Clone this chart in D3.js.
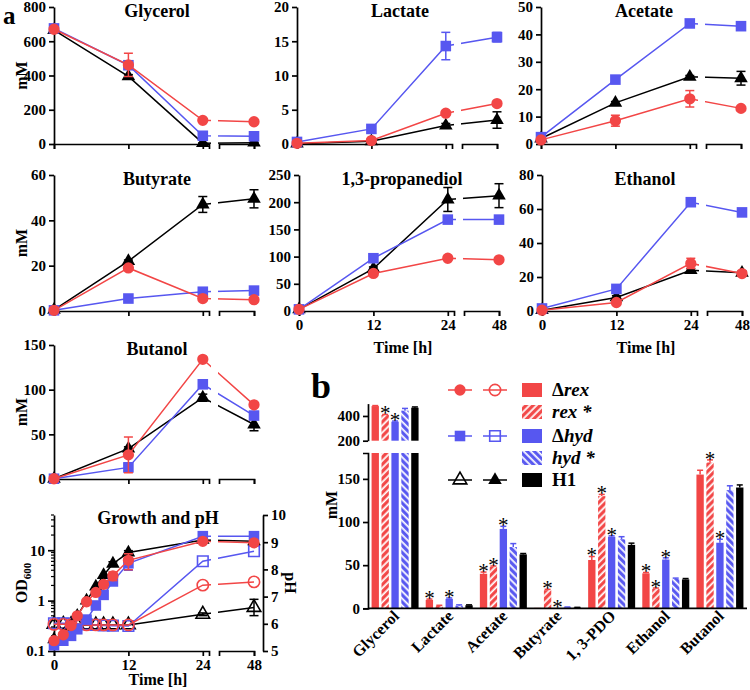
<!DOCTYPE html>
<html>
<head>
<meta charset="utf-8">
<script src="https://cdn.jsdelivr.net/npm/d3@7"></script>
<style>
  body { margin: 0; background: #fff; }
  svg { font-family: "Liberation Serif", "Times New Roman", serif; font-weight: bold; }
</style>
</head>
<body>
<svg id="fig" width="750" height="690"></svg>
<script>
const red = "#f24646";
const blue = "#5757f0";
const black = "#000";

// ---- panel a: metabolites over time ----
const times = [0, 12, 24, 48];
const metabolites = ["Glycerol", "Lactate", "Acetate", "Butyrate", "1,3-propanediol", "Ethanol", "Butanol"];
const yMaxes = [800, 20, 50, 60, 250, 80, 150];
const ySteps = [200, 5, 10, 20, 50, 20, 50];

// Δrex (red circles)
const rexMM = [
    [670, 462, 138, 130],
    [0.1, 0.5, 4.5, 5.9],
    [1.5, 8.5, 16.5, 13],
    [0.3, 19, 5.5, 5],
    [3, 69, 97, 94],
    [0.5, 5, 28, 22],
    [0.3, 27, 134, 83]
];
const rexErr = [
    [8, 68, 4, 4],
    [0, 0.1, 0.3, 0.3],
    [0.3, 2, 3, 0.5],
    [0, 0.5, 0.5, 0.3],
    [0, 2, 2, 2],
    [0, 0.5, 3, 1],
    [0, 20, 2, 2]
];
// Δhyd (blue squares)
const hydMM = [
    [675, 460, 48, 45],
    [0.3, 2.2, 14.3, 15.6],
    [2.5, 23.5, 44, 43],
    [0.3, 5.5, 8.5, 9],
    [3, 97, 168, 168],
    [1.5, 13, 64, 58],
    [0.3, 13, 106, 71]
];
const hydErr = [
    [8, 20, 4, 4],
    [0, 0.2, 2, 0.7],
    [0.3, 1, 0.5, 0.5],
    [0, 0.5, 0.5, 0.5],
    [0, 3, 3, 3],
    [0, 1, 1, 1],
    [0, 5, 3, 3]
];
// H1 (black triangles)
const h1MM = [
    [665, 395, 5, 8],
    [0.05, 0.4, 2.7, 3.5],
    [2, 15, 24.5, 24],
    [0.5, 22, 47, 49.5],
    [3, 78, 205, 212],
    [0.5, 8, 24, 22.5],
    [0.3, 34, 91, 61]
];
const h1Err = [
    [8, 10, 2, 2],
    [0, 0.1, 0.3, 1.2],
    [0.3, 0.5, 0.5, 2.5],
    [0, 0.5, 3.5, 4],
    [0, 3, 22, 22],
    [0, 1, 1, 1],
    [0, 2, 4, 7]
];

// ---- growth and pH ----
const growthTimes = [0, 1.5, 2.75, 3.75, 5.25, 6.75, 8, 9.5, 12, 24, 48];
const odRex = [0.16, 0.21, 0.32, 0.5, 0.95, 1.45, 2.1, 3.1, 6.3, 15, 14];
const odRexErr = [0, 0, 0, 0, 0, 0, 0.3, 0.6, 2.2, 1, 1];
const odHyd = [0.13, 0.16, 0.2, 0.27, 0.42, 0.8, 1.3, 2.4, 5.5, 19, 19];
const odHydErr = [0, 0, 0, 0, 0, 0, 0, 0.3, 1.5, 1, 1];
const odH1 = [0.17, 0.21, 0.3, 0.5, 1.0, 1.9, 3.2, 5.4, 9, 16, 15];
const odH1Err = [0, 0, 0, 0, 0, 0, 0, 0.5, 0.8, 1, 1];
const phRex = [5.98, 5.98, 5.97, 5.97, 5.96, 5.96, 5.96, 5.96, 5.96, 7.42, 7.54];
const phHyd = [6.02, 6.02, 6.0, 6.0, 5.98, 5.96, 5.94, 5.93, 5.92, 8.3, 8.67];
const phH1 = [5.98, 5.98, 5.97, 5.96, 5.96, 5.96, 5.96, 5.96, 5.96, 6.35, 6.6];
const phH1Err = [0, 0, 0, 0, 0, 0, 0, 0, 0, 0.05, 0.3];

// ---- panel b: bars ----
const barGroups = ["Glycerol", "Lactate", "Acetate", "Butyrate", "1, 3-PDO", "Ethanol", "Butanol"];
const barDrex = [480, 9.7, 40, 0.5, 56, 40.5, 155];
const barRex = [408, 3, 48, 21, 130, 22.5, 169];
const barDhyd = [354, 11, 92, 0.2, 83, 56.5, 76];
const barHyd = [443, 3, 71, 1, 80, 34, 137];
const barH1 = [467, 3.5, 62.5, 0.8, 73.5, 33.5, 140];
const barDrexErr = [4, 1, 2, 0, 4, 1, 5];
const barRexErr = [4, 0.5, 1, 1, 2, 1, 3];
const barDhydErr = [5, 1, 3, 0, 1, 2, 4];
const barHydErr = [18, 1, 4, 0.5, 3, 1, 5];
const barH1Err = [6, 0.5, 1, 0.3, 2, 1, 3];
const starDrex = [0, 1, 1, 0, 1, 1, 0];
const starRex = [1, 0, 1, 1, 1, 1, 1];
const starDhyd = [1, 1, 1, 1, 1, 1, 1];
const starHyd = [0, 0, 0, 0, 0, 0, 0];
const starH1 = [0, 0, 0, 0, 0, 0, 0];

// panel frames (axis origin x, top y, height)
const panelLayout = [
    { x0: 54, top: 7, h: 137 },
    { x0: 297, top: 7, h: 137 },
    { x0: 541, top: 7, h: 137 },
    { x0: 54, top: 175, h: 136 },
    { x0: 299, top: 175, h: 136 },
    { x0: 542, top: 175, h: 136 },
    { x0: 54, top: 345, h: 134 }
];

const svg = d3.select("#fig");
const defs = svg.append("defs");

function hatch(id, color, angle) {
    const p = defs.append("pattern")
        .attr("id", id)
        .attr("patternUnits", "userSpaceOnUse")
        .attr("width", 5).attr("height", 5)
        .attr("patternTransform", `rotate(${angle})`);
    p.append("rect").attr("width", 5).attr("height", 5).attr("fill", color);
    p.append("line").attr("x1", 1.2).attr("x2", 1.2).attr("y1", 0).attr("y2", 5)
        .attr("stroke", "#fff").attr("stroke-width", 1.8);
}
hatch("hatchRed", red, 45);
hatch("hatchBlue", blue, -45);

function styleAxis(sel, fontSize = 15) {
    sel.attr("font-family", null).attr("font-size", null);
    sel.selectAll("path, line").attr("stroke", "#000").attr("stroke-width", 1.7);
    sel.selectAll("text").attr("font-size", fontSize).attr("font-weight", "bold").attr("fill", "#000");
}

function symbolFor(shape) {
    if (shape === "circle") return d3.symbol(d3.symbolCircle, 100);
    if (shape === "square") return d3.symbol(d3.symbolSquare, 112);
    return d3.symbol(d3.symbolTriangle, 80);
}

// broken time axis: 0-25 h then 44.5-48 h
function timeScale(x0) {
    const xa = d3.scaleLinear().domain([0, 25]).range([x0, x0 + 155]);
    const xb = d3.scaleLinear().domain([44.5, 48]).range([x0 + 165, x0 + 200]);
    return { xa, xb, x: t => (t <= 25 ? xa(t) : xb(t)) };
}

function makeClip(id, x0, top, h) {
    const cp = defs.append("clipPath").attr("id", id);
    cp.append("rect").attr("x", x0 - 20).attr("y", top - 60).attr("width", 177).attr("height", h + 120);
    cp.append("rect").attr("x", x0 + 164).attr("y", top - 60).attr("width", 80).attr("height", h + 120);
}

function drawTimeAxis(g, ts, bottom, showLabels) {
    const fmt = showLabels ? d3.format("d") : () => "";
    g.append("g")
        .attr("transform", `translate(0,${bottom})`)
        .call(d3.axisBottom(ts.xa).tickValues([0, 12, 24]).tickSize(5).tickSizeOuter(5).tickFormat(fmt))
        .call(styleAxis);
    g.append("g")
        .attr("transform", `translate(0,${bottom})`)
        .call(d3.axisBottom(ts.xb).tickValues([48]).tickSize(5).tickSizeOuter(5).tickFormat(fmt))
        .call(styleAxis);
}

function drawSeries(g, x, y, ts, vals, errs, color, shape, filled, clipId) {
    g.append("path")
        .datum(ts.map((t, i) => [x(t), y(vals[i])]))
        .attr("clip-path", `url(#${clipId})`)
        .attr("d", d3.line())
        .attr("fill", "none")
        .attr("stroke", color)
        .attr("stroke-width", 1.5);

    if (errs) {
        ts.forEach((t, i) => {
            const e = errs[i];
            if (!e) return;
            const cx = x(t);
            const lo = y(Math.max(vals[i] - e, y.domain()[0]));
            const hi = y(vals[i] + e);
            const eb = g.append("g").attr("stroke", color).attr("stroke-width", 1.5);
            eb.append("line").attr("x1", cx).attr("x2", cx).attr("y1", lo).attr("y2", hi);
            eb.append("line").attr("x1", cx - 4.5).attr("x2", cx + 4.5).attr("y1", lo).attr("y2", lo);
            eb.append("line").attr("x1", cx - 4.5).attr("x2", cx + 4.5).attr("y1", hi).attr("y2", hi);
        });
    }

    g.selectAll(null)
        .data(ts)
        .join("path")
        .attr("transform", (t, i) => `translate(${x(t)},${y(vals[i])})`)
        .attr("d", symbolFor(shape))
        .attr("fill", filled ? color : "none")
        .attr("stroke", color)
        .attr("stroke-width", filled ? 0 : 1.6);
}

function linePanel(i) {
    const { x0, top, h } = panelLayout[i];
    const bottom = top + h;
    const ts = timeScale(x0);
    const y = d3.scaleLinear().domain([0, yMaxes[i]]).range([bottom, top]);
    const clipId = "clip" + i;
    makeClip(clipId, x0, top, h);
    const g = svg.append("g");

    g.append("g")
        .attr("transform", `translate(${x0},0)`)
        .call(d3.axisLeft(y).tickValues(d3.range(0, yMaxes[i] + 0.1, ySteps[i])).tickSize(5).tickSizeOuter(0))
        .call(styleAxis);
    drawTimeAxis(g, ts, bottom, i === 4 || i === 5);

    g.append("text")
        .attr("x", x0 + 103).attr("y", top + 10)
        .attr("text-anchor", "middle").attr("font-size", 18)
        .text(metabolites[i]);

    if (i === 0 || i === 3 || i === 6) {
        g.append("text")
            .attr("transform", `translate(27,${top + h / 2}) rotate(-90)`)
            .attr("text-anchor", "middle").attr("font-size", 16)
            .text("mM");
    }
    if (i === 4 || i === 5) {
        g.append("text")
            .attr("x", x0 + 104).attr("y", bottom + 42)
            .attr("text-anchor", "middle").attr("font-size", 16)
            .text("Time [h]");
    }

    drawSeries(g, ts.x, y, times, h1MM[i], h1Err[i], black, "triangle", true, clipId);
    drawSeries(g, ts.x, y, times, hydMM[i], hydErr[i], blue, "square", true, clipId);
    drawSeries(g, ts.x, y, times, rexMM[i], rexErr[i], red, "circle", true, clipId);
}

function growthPanel() {
    const x0 = 54, top = 515, h = 136, bottom = top + h;
    const ts = timeScale(x0);
    const yOd = d3.scaleLog().domain([0.1, 50]).range([bottom, top]);
    const yPh = d3.scaleLinear().domain([5, 10]).range([bottom, top]);
    const clipId = "clipGrowth";
    makeClip(clipId, x0, top, h);
    const g = svg.append("g");

    g.append("g")
        .attr("transform", `translate(${x0},0)`)
        .call(d3.axisLeft(yOd).tickValues([0.1, 1, 10]).tickFormat(d3.format("")).tickSize(6).tickSizeOuter(0))
        .call(styleAxis);
    const minor = [];
    [0.1, 1, 10].forEach(dec => d3.range(2, 10).forEach(m => { if (dec * m <= 50) minor.push(dec * m); }));
    g.append("g").selectAll("line").data(minor).join("line")
        .attr("x1", x0 - 3).attr("x2", x0)
        .attr("y1", d => yOd(d)).attr("y2", d => yOd(d))
        .attr("stroke", "#000").attr("stroke-width", 1.2);

    g.append("g")
        .attr("transform", `translate(263,0)`)
        .call(d3.axisRight(yPh).ticks(5).tickSize(5).tickSizeOuter(0))
        .call(styleAxis);
    drawTimeAxis(g, ts, bottom, true);

    g.append("text").attr("x", x0 + 104).attr("y", top + 9)
        .attr("text-anchor", "middle").attr("font-size", 18).text("Growth and pH");
    g.append("text").attr("x", x0 + 104).attr("y", bottom + 34)
        .attr("text-anchor", "middle").attr("font-size", 16).text("Time [h]");
    const od = g.append("text").attr("transform", `translate(27,${top + h / 2}) rotate(-90)`)
        .attr("text-anchor", "middle").attr("font-size", 16);
    od.append("tspan").text("OD");
    od.append("tspan").attr("font-size", 11).attr("dy", 4).text("600");
    g.append("text").attr("transform", `translate(285,${top + h / 2}) rotate(90)`)
        .attr("text-anchor", "middle").attr("font-size", 16).text("pH");

    drawSeries(g, ts.x, yPh, growthTimes, phH1, phH1Err, black, "triangle", false, clipId);
    drawSeries(g, ts.x, yPh, growthTimes, phHyd, null, blue, "square", false, clipId);
    drawSeries(g, ts.x, yPh, growthTimes, phRex, null, red, "circle", false, clipId);
    drawSeries(g, ts.x, yOd, growthTimes, odH1, odH1Err, black, "triangle", true, clipId);
    drawSeries(g, ts.x, yOd, growthTimes, odHyd, odHydErr, blue, "square", true, clipId);
    drawSeries(g, ts.x, yOd, growthTimes, odRex, odRexErr, red, "circle", true, clipId);
}

function barPanel() {
    const left = 368, right = 747;
    const yLow = d3.scaleLinear().domain([0, 180]).range([608.3, 453]);
    const yUp = d3.scaleLinear().domain([200, 500]).range([440.7, 403.6]);
    const xg = d3.scaleBand().domain(barGroups).range([left, right]);
    const xi = d3.scaleBand().domain(d3.range(5)).range([-23.5, 23.5]).paddingInner(0.26);
    const vals = [barDrex, barRex, barDhyd, barHyd, barH1];
    const errs = [barDrexErr, barRexErr, barDhydErr, barHydErr, barH1Err];
    const stars = [starDrex, starRex, starDhyd, starHyd, starH1];
    const fills = [red, "url(#hatchRed)", blue, "url(#hatchBlue)", black];
    const lineColors = [red, red, blue, blue, black];
    const g = svg.append("g");

    barGroups.forEach((grp, gi) => {
        const gc = xg(grp) + xg.bandwidth() / 2;
        vals.forEach((series, si) => {
            const v = series[gi];
            const bx = gc + xi(si);
            const bw = xi.bandwidth();
            const topLow = yLow(Math.min(v, 180));
            g.append("rect").attr("x", bx).attr("y", topLow)
                .attr("width", bw).attr("height", yLow(0) - topLow).attr("fill", fills[si]);
            if (v > 200) {
                g.append("rect").attr("x", bx).attr("y", yUp(v))
                    .attr("width", bw).attr("height", yUp(200) - yUp(v)).attr("fill", fills[si]);
            }
            const e = errs[si][gi];
            const ys = v > 200 ? yUp : yLow;
            const yv = ys(v), ye = ys(v + e);
            const cx = bx + bw / 2;
            if (e > 0) {
                g.append("line").attr("x1", cx).attr("x2", cx).attr("y1", yv).attr("y2", ye)
                    .attr("stroke", lineColors[si]).attr("stroke-width", 1.5);
                g.append("line").attr("x1", cx - 3).attr("x2", cx + 3).attr("y1", ye).attr("y2", ye)
                    .attr("stroke", lineColors[si]).attr("stroke-width", 1.5);
            }
            if (stars[si][gi]) {
                g.append("text").attr("x", cx).attr("y", ye + 12)
                    .attr("text-anchor", "middle").attr("font-size", 21).attr("font-weight", "normal")
                    .attr("dy", "-0.3em")
                    .text("*");
            }
        });
        g.append("text")
            .attr("transform", `translate(${gc + 5},617) rotate(-45)`)
            .attr("text-anchor", "end").attr("font-size", 16)
            .text(grp);
    });

    g.append("g").attr("transform", `translate(${left},0)`)
        .call(d3.axisLeft(yLow).tickValues([0, 50, 100, 150]).tickSize(5).tickSizeOuter(5))
        .call(styleAxis);
    g.append("g").attr("transform", `translate(${left},0)`)
        .call(d3.axisLeft(yUp).tickValues([200, 400]).tickSize(5).tickSizeOuter(0))
        .call(styleAxis);
    g.append("line").attr("x1", left).attr("x2", right).attr("y1", yLow(0)).attr("y2", yLow(0))
        .attr("stroke", "#000").attr("stroke-width", 1.7);
    g.append("text").attr("transform", "translate(337,505) rotate(-90)")
        .attr("text-anchor", "middle").attr("font-size", 16).text("mM");
}

function legend() {
    const rowsY = [390, 412, 436, 458, 480];
    const g = svg.append("g");
    const mark = (cx, cy, color, shape, filled) => {
        g.append("line").attr("x1", cx - 12).attr("x2", cx + 12).attr("y1", cy).attr("y2", cy)
            .attr("stroke", color).attr("stroke-width", 1.5);
        g.append("path").attr("transform", `translate(${cx},${cy})`).attr("d", symbolFor(shape))
            .attr("fill", filled ? color : "none").attr("stroke", color).attr("stroke-width", filled ? 0 : 1.6);
    };
    mark(460, rowsY[0], red, "circle", true);
    mark(495, rowsY[0], red, "circle", false);
    mark(460, rowsY[2], blue, "square", true);
    mark(495, rowsY[2], blue, "square", false);
    mark(460, rowsY[4], black, "triangle", false);
    mark(495, rowsY[4], black, "triangle", true);

    const boxes = [red, "url(#hatchRed)", blue, "url(#hatchBlue)", black];
    const labels = [["Δ", "rex"], ["", "rex *"], ["Δ", "hyd"], ["", "hyd *"], ["H1", ""]];
    rowsY.forEach((yy, k) => {
        g.append("rect").attr("x", 522).attr("y", yy - 7).attr("width", 20).attr("height", 14).attr("fill", boxes[k]);
        const t = g.append("text").attr("x", 552).attr("y", yy + 6).attr("font-size", 19);
        if (labels[k][0]) t.append("tspan").text(labels[k][0]);
        if (labels[k][1]) t.append("tspan").attr("font-style", "italic").text(labels[k][1]);
    });
}

d3.range(7).forEach(linePanel);
growthPanel();
barPanel();
legend();

svg.append("text").attr("x", 3).attr("y", 24).attr("font-size", 25).text("a");
svg.append("text").attr("x", 311).attr("y", 398).attr("font-size", 36).text("b");
</script>
</body>
</html>
